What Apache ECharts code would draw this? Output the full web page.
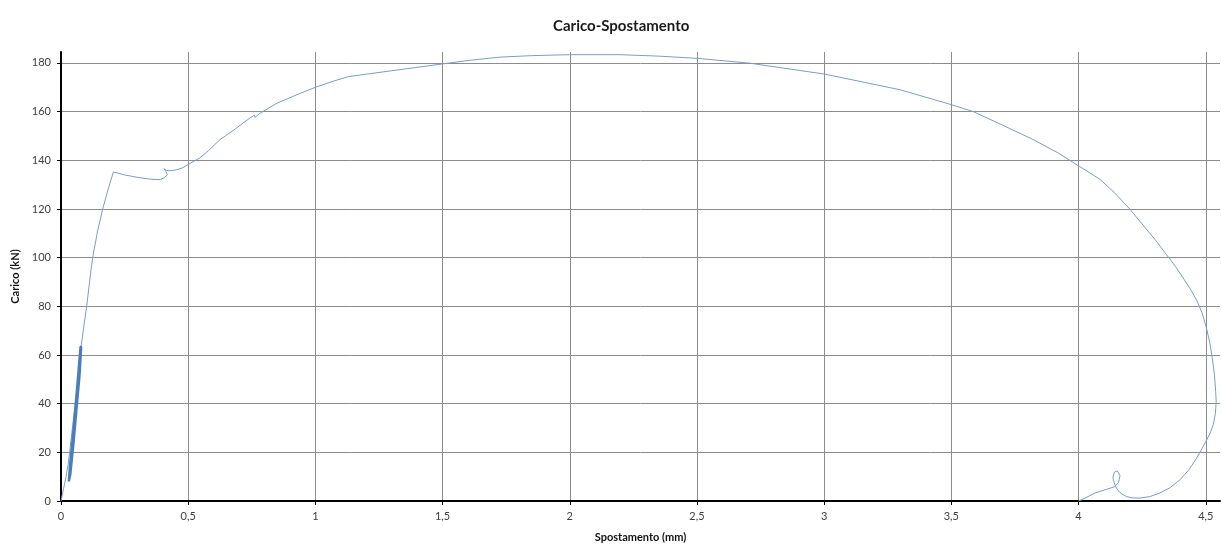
<!DOCTYPE html>
<html>
<head>
<meta charset="utf-8">
<script src="https://cdn.jsdelivr.net/npm/echarts@6/dist/echarts.min.js"></script>
<style>html,body{margin:0;padding:0;background:#fff}#c{width:1221px;height:548px}</style>
</head>
<body>
<div id="c"></div>
<script>
// Main load path: Spostamento (mm)
const dispX = [
  0, 0.010, 0.020, 0.028, 0.036, 0.046, 0.056, 0.066, 0.074, 0.079,
  0.090, 0.101, 0.110, 0.118, 0.126, 0.144, 0.164, 0.185, 0.206,
  0.25, 0.30, 0.34, 0.37, 0.39, 0.405, 0.418, 0.412, 0.405, 0.415, 0.43, 0.455, 0.48, 0.50,
  0.546, 0.58, 0.625, 0.68, 0.743, 0.76, 0.763, 0.78, 0.85, 0.94, 1.00, 1.07, 1.13,
  1.30, 1.50, 1.60, 1.726, 1.85, 2.00, 2.197, 2.35, 2.50, 2.708, 3.003, 3.298, 3.502, 3.586, 3.70,
  3.822, 3.92, 4.002, 4.084, 4.14, 4.202, 4.25, 4.30, 4.34, 4.38, 4.415, 4.443, 4.464, 4.485, 4.503,
  4.516, 4.526, 4.534, 4.539, 4.541, 4.538, 4.530, 4.518, 4.503, 4.485, 4.464, 4.435, 4.399, 4.36,
  4.32, 4.28, 4.241, 4.21, 4.189, 4.17, 4.155, 4.143, 4.135,
  4.140, 4.152, 4.163, 4.157, 4.140, 4.11, 4.065, 4.012, 4.0
];
// Main load path: Carico (kN)
const loadY = [
  0, 5, 10, 15, 22, 31, 40, 49, 57, 63.5,
  72, 80, 88, 95, 101, 111, 120, 128, 135.2,
  134.0, 133.0, 132.4, 132.1, 132.1, 132.8, 134.0, 135.5, 136.5, 135.8, 135.7, 136.1, 137.0, 138.3,
  141.0, 144.0, 148.5, 152.5, 157.4, 158.5, 157.6, 159.2, 163.5, 167.5, 170.0, 172.5, 174.4,
  176.8, 179.6, 181.0, 182.4, 183.0, 183.4, 183.4, 182.8, 181.9, 179.9, 175.4, 169.0, 162.8, 160.0, 154.5,
  148.5, 143.0, 137.6, 132.2, 126.8, 119.9, 113.8, 107.5, 102.0, 96.5, 91.0, 86.5, 82.5, 77.5, 71.0,
  65.0, 58.5, 52.0, 45.0, 41.0, 36.0, 31.5, 28.0, 25.0, 21.5, 17.6, 13.0, 8.7, 5.5,
  3.3, 1.8, 1.2, 1.3, 1.8, 2.9, 4.3, 6.5, 9.5,
  11.8, 12.4, 10.5, 7.5, 5.8, 4.8, 3.3, 0.5, 0
];
// Initial load cycles (dense band): Spostamento (mm)
const cycleX = [
  0.079, 0.071, 0.059, 0.045, 0.029,
  0.034, 0.048, 0.062, 0.075,
  0.069, 0.057, 0.044, 0.031,
  0.036, 0.050, 0.064, 0.077,
  0.071, 0.059, 0.046, 0.033,
  0.038, 0.052, 0.066, 0.079,
  0.073, 0.061, 0.048, 0.035,
  0.040, 0.054, 0.068, 0.080,
  0.074, 0.062, 0.050, 0.037,
  0.042, 0.056, 0.069, 0.081,
  0.075, 0.063, 0.051, 0.038,
  0.043, 0.057, 0.070, 0.079
];
// Initial load cycles (dense band): Carico (kN)
const cycleY = [
  63.5, 52, 38, 22, 8.0,
  15, 30, 47, 63.5,
  52, 38, 22, 8.5,
  15, 31, 47, 63.8,
  52, 38, 22, 8.0,
  15, 31, 47, 63.5,
  52, 38, 23, 9.0,
  16, 31, 48, 63.7,
  52, 38, 23, 10.0,
  16, 32, 48, 63.2,
  52, 38, 24, 10.5,
  17, 32, 48, 63.5
];
const xTickStep = 0.5;
const yTickStep = 20;

const points = dispX.map((x, i) => [x, loadY[i]]);
const cyclePoints = cycleX.map((x, i) => [x, cycleY[i]]);
const fmt = v => String(+v.toFixed(2)).replace('.', ',');

const chart = echarts.init(document.getElementById('c'));
chart.setOption({
  animation: false,
  backgroundColor: '#ffffff',
  title: {
    text: 'Carico-Spostamento',
    left: 548, top: 14,
    textStyle: { fontFamily: 'Lato', fontWeight: 'bold', fontSize: 15, color: '#1a1a1a' }
  },
  grid: { left: 61, right: 1, top: 52, bottom: 45 },
  xAxis: {
    type: 'value', min: 0, max: 4.556, interval: xTickStep,
    name: 'Spostamento (mm)', nameLocation: 'middle', nameGap: 31,
    nameTextStyle: { fontFamily: 'Lato', fontWeight: 'bold', fontSize: 11, color: '#111' },
    axisLine: { show: true, onZero: false, lineStyle: { color: '#000', width: 2 } },
    axisTick: { show: true, length: 4, lineStyle: { color: '#000', width: 1 } },
    axisLabel: { showMaxLabel: false, margin: 10, formatter: fmt,
      fontFamily: 'Lato', fontSize: 11, color: '#404040' },
    splitLine: { show: true, showMinLine: false, showMaxLine: false, lineStyle: { color: '#8c8c8c', width: 1 } }
  },
  yAxis: {
    type: 'value', min: 0, max: 184.5, interval: yTickStep,
    name: 'Carico (kN)', nameLocation: 'middle', nameGap: 40, nameRotate: 90,
    nameTextStyle: { fontFamily: 'Lato', fontWeight: 'bold', fontSize: 11, color: '#111' },
    axisLine: { show: true, onZero: false, lineStyle: { color: '#000', width: 2 } },
    axisTick: { show: true, length: 4, lineStyle: { color: '#000', width: 1 } },
    axisLabel: { showMaxLabel: false, margin: 10,
      fontFamily: 'Lato', fontSize: 11, color: '#404040' },
    splitLine: { show: true, showMinLine: false, showMaxLine: false, lineStyle: { color: '#8c8c8c', width: 1 } }
  },
  series: [{
    type: 'line',
    data: points,
    showSymbol: false,
    lineStyle: { color: '#7b9bcf', width: 1 },
    z: 5
  }, {
    type: 'line',
    data: cyclePoints,
    showSymbol: false,
    lineStyle: { color: '#4a7ebb', width: 1.5 },
    z: 6
  }]
});
</script>
</body>
</html>
